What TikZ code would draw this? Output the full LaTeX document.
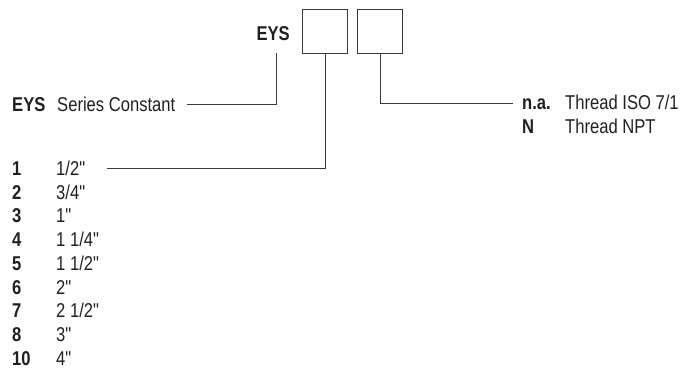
\documentclass[tikz,border=0pt]{standalone}
\usepackage{fontspec}
\setmainfont{Liberation Sans}[FakeStretch=0.83, Ligatures=TeXOff]
\definecolor{txt}{HTML}{231F20}
\definecolor{ln}{HTML}{3A3A3A}
\begin{document}
\begin{tikzpicture}[x=1pt,y=-1pt,
  lbl/.style={anchor=base west, inner sep=0pt, text=txt, font=\fontsize{20}{24}\selectfont},
  blbl/.style={lbl, font=\fontsize{20}{24}\selectfont\bfseries},
  codebox/.style={draw=ln, line width=0.8pt, minimum width=45pt, minimum height=44pt, inner sep=0pt, anchor=north west},
  conn/.style={draw=ln, line width=0.8pt}]
\useasboundingbox (0,0) rectangle (680,368);
% header
\node[blbl, anchor=base east] (eys) at (290,40) {EYS};
\node[codebox] (b1) at (302,9) {};
\node[codebox] (b2) at (357,9) {};
% series constant
\node[blbl] (sck) at (12,111) {EYS};
\node[lbl] (scv) at (57,111) {Series Constant};
% thread
\node[blbl] (t1k) at (522,109) {n.a.};
\node[lbl] (t1v) at (565,109) {Thread ISO 7/1};
\node[blbl] (t2k) at (522,133) {N};
\node[lbl] (t2v) at (565,133) {Thread NPT};
% sizes
\foreach \k/\v [count=\i from 0] in {1/{1/2"},2/{3/4"},3/{1"},4/{1 1/4"},5/{1 1/2"},6/{2"},7/{2 1/2"},8/{3"},10/{4"}}{
  \node[blbl] (sk\i) at (12,175.5+23.7*\i) {\k};
  \node[lbl] (sv\i) at (56,175.5+23.7*\i) {\v};
}
% connector ends
\coordinate (eysfoot) at (276,53);
\coordinate (scend) at (187,104);
\coordinate (szend) at (107,168.5);
\coordinate (thend) at (513,103.5);
\draw[conn] (eysfoot) |- (scend);
\draw[conn] (b1.south) |- (szend);
\draw[conn] (b2.south) |- (thend);
\end{tikzpicture}
\end{document}
